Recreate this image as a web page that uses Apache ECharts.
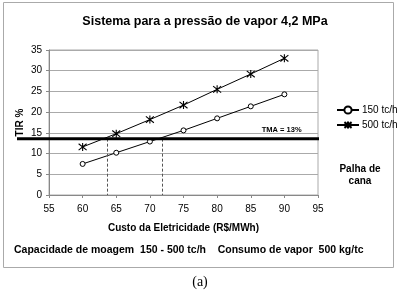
<!DOCTYPE html>
<html><head><meta charset="utf-8">
<script src="https://cdn.jsdelivr.net/npm/echarts@6/dist/echarts.min.js"></script>
<style>html,body{margin:0;padding:0;background:#fff}#c{width:397px;height:297px}</style>
</head><body><div id="c"></div>
<script>
const xCategories = [60, 65, 70, 75, 80, 85, 90];
const series150 = [7.5, 10.2, 12.9, 15.6, 18.5, 21.4, 24.3];
const series500 = [11.6, 14.8, 18.2, 21.7, 25.5, 29.2, 33.0];
const seriesNames = ['150 tc/h', '500 tc/h'];
const tmaValue = 13.6;
const breakEvenX = [63.6, 71.8];
const tmaLabelPos = [89.6, 15.7];

const F = 'Liberation Sans, Arial, sans-serif';
const star = 'path://M0,-5L0,5M-4,-4L4,4M-4,4L4,-4';
const chart = echarts.init(document.getElementById('c'), null, {renderer: 'canvas'});
const opt = {
  animation: false,
  title: {text: 'Sistema para a pressão de vapor 4,2 MPa', left: 200, textAlign: 'center', top: 10,
    textStyle: {fontFamily: F, fontSize: 12.5, fontWeight: 'bold', color: '#000'}},
  grid: {left: 49, right: 79, top: 50, bottom: 102, show: true, borderColor: '#aaa', borderWidth: 1},
  legend: {orient: 'vertical', left: 331, top: 100, itemGap: 5, itemWidth: 22, itemHeight: 9,
    textStyle: {fontFamily: F, fontSize: 10, color: '#000', padding: [0, 0, 0, -2]},
    data: seriesNames},
  xAxis: {type: 'value', min: 55, max: 95, interval: 5,
    name: 'Custo da Eletricidade (R$/MWh)', nameLocation: 'middle', nameGap: 28,
    nameTextStyle: {fontFamily: F, fontSize: 10, fontWeight: 'bold', color: '#000'},
    axisLine: {lineStyle: {color: '#888'}}, axisTick: {show: true, inside: false, length: 3, lineStyle: {color: '#888'}},
    splitLine: {show: false},
    axisLabel: {fontFamily: F, fontSize: 10, color: '#000', margin: 9}},
  yAxis: {type: 'value', min: 0, max: 35, interval: 5,
    axisLine: {show: true, lineStyle: {color: '#888'}}, axisTick: {show: true, length: 3, lineStyle: {color: '#888'}},
    splitLine: {lineStyle: {color: '#aaa'}},
    axisLabel: {fontFamily: F, fontSize: 10, color: '#000', margin: 7}},
  series: [
    {name: seriesNames[0], type: 'line', data: xCategories.map((x, i) => [x, series150[i]]),
      symbol: 'circle', symbolSize: 5, showSymbol: true,
      lineStyle: {color: '#000', width: 1}, itemStyle: {color: '#fff', borderColor: '#000', borderWidth: 1},
      markLine: {silent: true, symbol: 'none', label: {show: false},
        lineStyle: {color: '#555', type: [3, 2], width: 1},
        data: breakEvenX.map(x => [{coord: [x, tmaValue]}, {coord: [x, 0]}])}},
    {name: seriesNames[1], type: 'line', data: xCategories.map((x, i) => [x, series500[i]]),
      symbol: star, symbolSize: 8, showSymbol: true,
      lineStyle: {color: '#000', width: 1}, itemStyle: {color: '#000', borderColor: '#000', borderWidth: 1.1}}
  ],
  graphic: []
};
chart.setOption(opt);
const pL = chart.convertToPixel({gridIndex: 0}, [95, tmaValue]);
const pT = chart.convertToPixel({gridIndex: 0}, tmaLabelPos);
const pM = chart.convertToPixel({gridIndex: 0}, [55, 17.5]);
chart.setOption({graphic: [
  {type: 'rect', shape: {x: 3.5, y: 2.5, width: 390, height: 265}, style: {fill: 'none', stroke: '#aaa', lineWidth: 1}, z: -1},
  {type: 'line', shape: {x1: 17, y1: pL[1], x2: pL[0] + 1, y2: pL[1]}, style: {stroke: '#000', lineWidth: 3}, z: 10},
  {type: 'text', x: 20, y: pM[1], rotation: Math.PI / 2, style: {text: 'TIR %', fontFamily: F, fontSize: 10, fontWeight: 'bold', fill: '#000', textAlign: 'center', textVerticalAlign: 'middle'}},
  {type: 'text', x: pT[0], y: pT[1], style: {text: 'TMA = 13%', fontFamily: F, fontSize: 7.5, fontWeight: 'bold', fill: '#000', textAlign: 'center', textVerticalAlign: 'middle'}, z: 10},
  {type: 'text', x: 360, y: 163, style: {text: 'Palha de\ncana', fontFamily: F, fontSize: 10, fontWeight: 'bold', fill: '#000', textAlign: 'center', lineHeight: 12}},
  {type: 'text', x: 14, y: 245, style: {text: 'Capacidade de moagem  150 - 500 tc/h    Consumo de vapor  500 kg/tc', fontFamily: F, fontSize: 10.5, fontWeight: 'bold', fill: '#000'}},
  {type: 'text', x: 200, y: 275, style: {text: '(a)', fontFamily: 'Liberation Serif, Times New Roman, serif', fontSize: 14, fill: '#000', textAlign: 'center'}}
]});
</script></body></html>
